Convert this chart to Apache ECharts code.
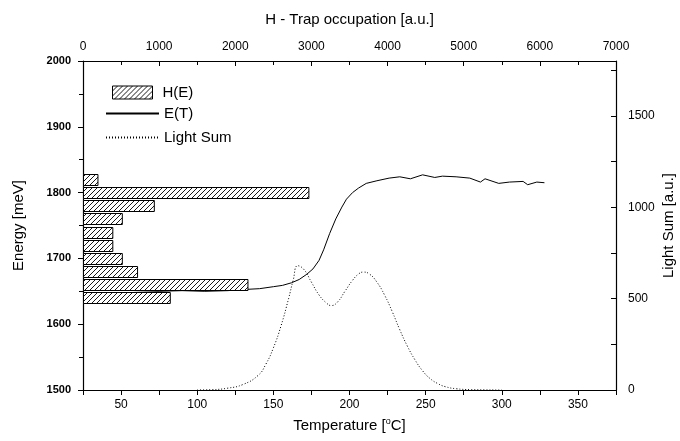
<!DOCTYPE html>
<html>
<head>
<meta charset="utf-8">
<script src="https://cdn.jsdelivr.net/npm/echarts@6/dist/echarts.min.js"></script>
<style>
  html, body { margin: 0; padding: 0; background: #fff; }
  #chart { width: 680px; height: 441px; }
</style>
</head>
<body>
<div id="chart"></div>
<script>
// H(E) histogram: energy bin centres [meV] and trap occupation [a.u.]
const binEnergy = [1640, 1660, 1680, 1700, 1720, 1740, 1760, 1780, 1800, 1820];
const binOccupation = [1140, 2160, 710, 510, 385, 385, 510, 930, 2960, 190];

// E(T): temperature [°C] vs energy [meV]
const etTemp = [48, 60, 75, 90, 105, 120, 133, 141, 150, 156, 162, 167, 172, 176, 180, 183, 187, 191, 195, 198,
  202, 206, 211, 218, 226, 233, 240, 248, 256, 261, 270, 279, 286, 289, 298, 305, 314, 317, 323, 328];
const etEnergy = [1652, 1651, 1650, 1651, 1650, 1651, 1653, 1654, 1657, 1659, 1663, 1668, 1676, 1684, 1697, 1713, 1738, 1760, 1778, 1790,
  1800, 1807, 1814, 1818, 1822, 1824, 1821, 1827, 1823, 1825, 1824, 1822, 1816, 1821, 1814, 1816, 1817, 1812, 1816, 1815];

// Light sum: temperature [°C] vs light sum [a.u.]
const lsTemp = [100, 110, 120, 130, 140, 145, 150, 155, 160, 163, 166, 170, 175, 180, 185, 188, 192, 197, 202, 206,
  209, 213, 218, 223, 228, 233, 238, 243, 248, 253, 258, 263, 270, 280, 300];
const lsValue = [0, 2, 10, 30, 80, 140, 230, 350, 500, 600, 680, 660, 590, 520, 475, 462, 480, 540, 600, 635,
  645, 635, 590, 520, 430, 330, 240, 165, 105, 62, 35, 18, 7, 2, 0];

const tempTicks = [50, 100, 150, 200, 250, 300, 350];
const lightTicks = [0, 500, 1000, 1500];

const font = 'Liberation Sans, Arial, sans-serif';

// hatch pattern for the histogram bars
const hatchCanvas = document.createElement('canvas');
hatchCanvas.width = 5;
hatchCanvas.height = 5;
const hctx = hatchCanvas.getContext('2d');
hctx.fillStyle = '#fff';
hctx.fillRect(0, 0, 5, 5);
hctx.strokeStyle = '#000';
hctx.lineWidth = 0.9;
hctx.beginPath();
hctx.moveTo(0, 5); hctx.lineTo(5, 0);
hctx.moveTo(-1, 1); hctx.lineTo(1, -1);
hctx.moveTo(4, 6); hctx.lineTo(6, 4);
hctx.stroke();
const hatch = { image: hatchCanvas, repeat: 'repeat' };

const axisLine = { show: true, lineStyle: { color: '#000', width: 1.2 } };
const labelStyle = { color: '#000', fontSize: 12, fontFamily: font };
const nameStyle = { color: '#000', fontSize: 15, fontFamily: font };
const noSymbol = { color: 'rgba(0,0,0,0)', borderWidth: 0 };

const option = {
  animation: false,
  backgroundColor: '#fff',
  grid: { left: 83, right: 64, top: 61, bottom: 51, containLabel: false, outerBoundsMode: 'none' },
  legend: [
    {
      left: 112, top: 85, padding: 0,
      itemWidth: 40, itemHeight: 13,
      textStyle: { color: '#000', fontSize: 15, fontFamily: font, padding: [0, 0, 0, 5] },
      data: [{ name: 'H(E)', icon: 'rect', itemStyle: { color: hatch, borderColor: '#000', borderWidth: 1 } }]
    },
    {
      left: 105, top: 106, padding: 0, orient: 'vertical',
      itemWidth: 53, itemHeight: 14, itemGap: 9,
      textStyle: { color: '#000', fontSize: 15, fontFamily: font },
      data: [
        { name: 'E(T)', itemStyle: noSymbol },
        { name: 'Light Sum', itemStyle: noSymbol }
      ]
    }
  ],
  xAxis: [
    {
      type: 'value', position: 'bottom',
      min: 25, max: 375, interval: 25,
      name: 'Temperature [{sup|o}C]', nameLocation: 'middle', nameGap: 27, nameMoveOverlap: false,
      nameTextStyle: Object.assign({}, nameStyle, {
        rich: { sup: { fontSize: 9, fontFamily: font, color: '#000', verticalAlign: 'top', padding: [0, 0, 9, 0] } }
      }),
      axisLine: axisLine,
      axisTick: { show: true, inside: false, length: 5, lineStyle: { color: '#000' } },
      axisLabel: Object.assign({}, labelStyle, {
        margin: 9,
        formatter: v => tempTicks.includes(v) ? String(v) : ''
      }),
      splitLine: { show: false }
    },
    {
      type: 'value', position: 'top',
      min: 0, max: 7000, interval: 1000,
      name: 'H - Trap occupation [a.u.]', nameLocation: 'middle', nameGap: 34, nameMoveOverlap: false,
      nameTextStyle: nameStyle,
      axisLine: axisLine,
      axisTick: { show: true, inside: true, length: 5, lineStyle: { color: '#000' } },
      minorTick: { show: true, splitNumber: 2, length: 4, lineStyle: { color: '#000' } },
      axisLabel: Object.assign({}, labelStyle, { margin: 8, formatter: v => String(v) }),
      splitLine: { show: false }
    }
  ],
  yAxis: [
    {
      type: 'value', position: 'left',
      min: 1500, max: 2000, interval: 100,
      name: 'Energy [meV]', nameLocation: 'middle', nameGap: 57, nameRotate: 90, nameMoveOverlap: false,
      nameTextStyle: nameStyle,
      axisLine: axisLine,
      axisTick: { show: true, inside: false, length: 5, lineStyle: { color: '#000' } },
      minorTick: { show: true, splitNumber: 2, length: 4, lineStyle: { color: '#000' } },
      axisLabel: Object.assign({}, labelStyle, { margin: 12, fontWeight: 'bold', fontSize: 11, formatter: v => String(v) }),
      splitLine: { show: false }
    },
    {
      type: 'value', position: 'right',
      min: 0, max: 1800, interval: 250,
      name: 'Light Sum [a.u.]', nameLocation: 'middle', nameGap: 45, nameRotate: 90, nameMoveOverlap: false,
      nameTextStyle: nameStyle,
      axisLine: axisLine,
      axisTick: { show: true, inside: true, length: 5, lineStyle: { color: '#000' } },
      axisLabel: Object.assign({}, labelStyle, {
        margin: 12,
        formatter: v => lightTicks.includes(v) ? String(v) : ''
      }),
      splitLine: { show: false }
    }
  ],
  series: [
    {
      name: 'Light Sum',
      type: 'line',
      xAxisIndex: 0, yAxisIndex: 1,
      symbol: 'none', smooth: true,
      lineStyle: { color: '#000', width: 1, type: [1, 2] },
      itemStyle: { color: '#000' },
      data: lsTemp.map((t, i) => [t, lsValue[i]]),
      z: 2
    },
    {
      name: 'E(T)',
      type: 'line',
      xAxisIndex: 0, yAxisIndex: 0,
      symbol: 'none',
      lineStyle: { color: '#000', width: 1 },
      itemStyle: { color: '#000' },
      data: etTemp.map((t, i) => [t, etEnergy[i]]),
      z: 3
    },
    {
      name: 'H(E)',
      type: 'custom',
      xAxisIndex: 1, yAxisIndex: 0,
      itemStyle: { color: hatch, borderColor: '#000', borderWidth: 1 },
      encode: { x: 0, y: 1 },
      data: binEnergy.map((e, i) => [binOccupation[i], e]),
      renderItem: function (params, api) {
        const start = api.coord([0, api.value(1)]);
        const end = api.coord([api.value(0), api.value(1)]);
        const h = 11;
        return {
          type: 'rect',
          shape: { x: Math.round(start[0]) + 0.5, y: Math.round(start[1] - h / 2) + 0.5, width: end[0] - start[0], height: h },
          style: { fill: hatch, stroke: '#000', lineWidth: 1 }
        };
      },
      z: 4
    }
  ]
};

const chart = echarts.init(document.getElementById('chart'));
chart.setOption(option);
window.addEventListener('resize', () => chart.resize());
</script>
</body>
</html>
